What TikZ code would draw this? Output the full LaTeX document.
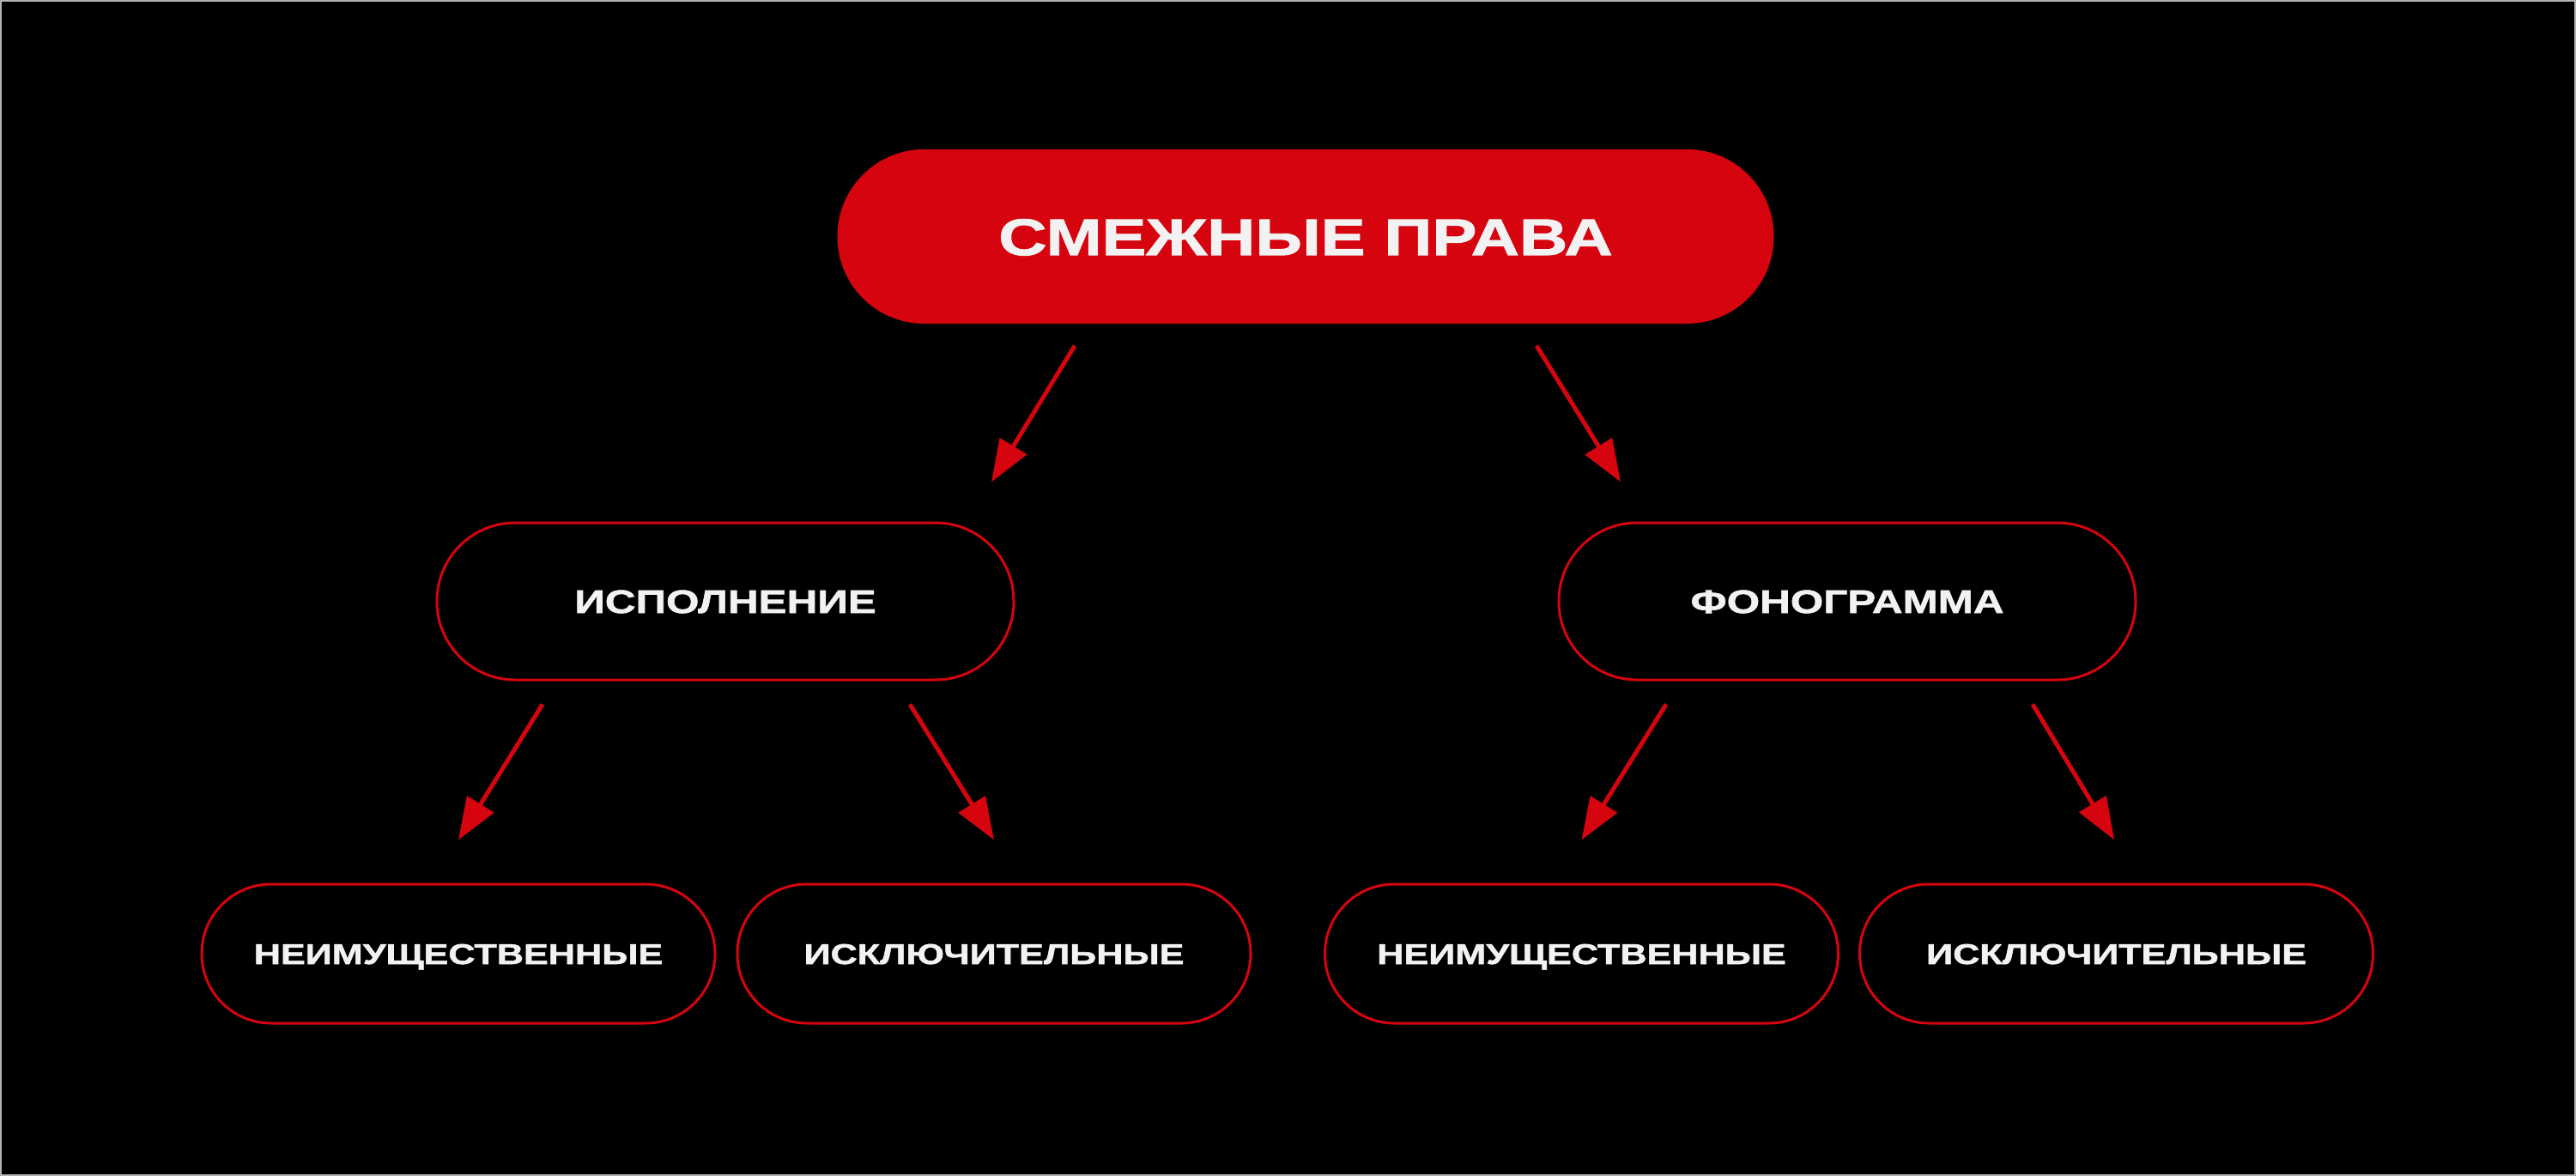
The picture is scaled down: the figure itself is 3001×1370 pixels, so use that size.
\documentclass[tikz,border=0pt]{standalone}
\usepackage{fontspec}
\setmainfont[FakeStretch=1.3,BoldFeatures={FakeBold=1.6}]{Liberation Sans}
\usetikzlibrary{arrows.meta}
\definecolor{brandred}{RGB}{213,4,15}
\definecolor{txt}{RGB}{242,242,242}
\begin{document}
\begin{tikzpicture}[x=0.25pt,y=-0.25pt,
  topbox/.style={fill=brandred, draw=none, rounded corners=25.3pt, minimum width=272.75pt, minimum height=50.75pt, inner sep=0pt, text=txt, text height=10.8pt, text depth=0pt, font=\fontsize{15}{18}\selectfont\bfseries},
  midbox/.style={draw=brandred, line width=0.75pt, rounded corners=22.8pt, minimum width=168pt, minimum height=45.75pt, inner sep=0pt, text=txt, text height=6.8pt, text depth=0pt, font=\fontsize{9.5}{11}\selectfont\bfseries},
  leafbox/.style={draw=brandred, line width=0.75pt, rounded corners=20.2pt, minimum width=149.5pt, minimum height=40.5pt, inner sep=0pt, text=txt, text height=6pt, text depth=0pt, font=\fontsize{8.3}{10}\selectfont\bfseries},
  arr/.style={draw=brandred, line width=1.25pt, -{Triangle[length=12.25pt,width=9pt]}}]
\useasboundingbox (0,0) rectangle (3001,1370);
\fill[black] (0,0) rectangle (3001,1370);
\draw[gray!60, line width=0.5pt] (1,1) rectangle (3000,1369);

\node[topbox] (top) at (1521,275.5) {СМЕЖНЫЕ ПРАВА};
\node[midbox] (perf) at (845,700.5) {ИСПОЛНЕНИЕ};
\node[midbox] (phon) at (2152,700.5) {ФОНОГРАММА};
\node[leafbox] (p1) at (534,1111) {НЕИМУЩЕСТВЕННЫЕ};
\node[leafbox] (p2) at (1158,1111) {ИСКЛЮЧИТЕЛЬНЫЕ};
\node[leafbox] (f1) at (1842.5,1111) {НЕИМУЩЕСТВЕННЫЕ};
\node[leafbox] (f2) at (2465.5,1111) {ИСКЛЮЧИТЕЛЬНЫЕ};

\draw[arr] ([xshift=-67.25pt,yshift=-6.25pt]top.south) -- ([xshift=77.5pt,yshift=11.5pt]perf.north);
\draw[arr] ([xshift=67.25pt,yshift=-6.25pt]top.south) -- ([xshift=-66pt,yshift=11.5pt]phon.north);
\draw[arr] ([xshift=-53.25pt,yshift=-6.75pt]perf.south) -- ([yshift=12.5pt]p1.north);
\draw[arr] ([xshift=53.75pt,yshift=-6.75pt]perf.south) -- ([yshift=12.5pt]p2.north);
\draw[arr] ([xshift=-52.75pt,yshift=-6.75pt]phon.south) -- ([yshift=12.5pt]f1.north);
\draw[arr] ([xshift=54pt,yshift=-6.75pt]phon.south) -- ([xshift=-0.6pt,yshift=12.5pt]f2.north);
\end{tikzpicture}
\end{document}
